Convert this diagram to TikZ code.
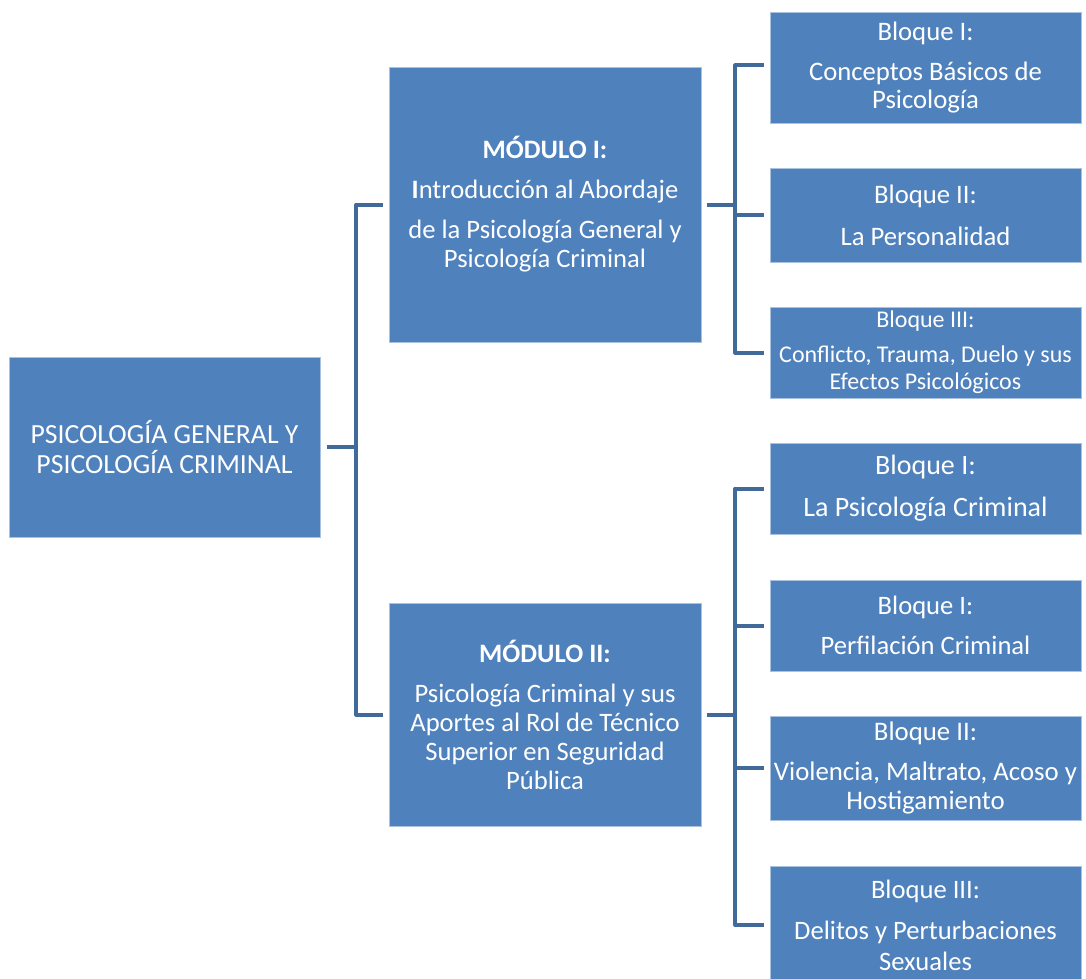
\documentclass[tikz,border=0pt]{standalone}
\usepackage{fontspec}
\setmainfont{Carlito}
\usetikzlibrary{positioning}
\definecolor{boxblue}{HTML}{4F81BD}
\definecolor{boxedge}{HTML}{A9C2E0}
\definecolor{linkblue}{HTML}{41699A}

\begin{document}
\begin{tikzpicture}[x=1pt, y=-1pt,
    box/.style={draw=boxedge, line width=0.8pt, fill=boxblue, text=white, align=center, inner sep=2pt},
    link/.style={draw=linkblue, line width=4pt, line join=round}]
    \useasboundingbox (0,0) rectangle (1086,979);
    % root and modules
    \node[box, minimum width=311pt, minimum height=180pt, font=\fontsize{27.7}{30}\selectfont] (root) at (164.5,447)
      {PSICOLOGÍA GENERAL Y\\PSICOLOGÍA CRIMINAL};
    \node[box, minimum width=312pt, minimum height=275pt, font=\fontsize{26.6}{29}\selectfont] (m1) at (545,204.5)
      {\textbf{MÓDULO I:}\\[11pt]\textbf{I}ntroducción al Abordaje\\[11pt]de la Psicología General y\\Psicología Criminal};
    \node[box, minimum width=312pt, minimum height=223pt, font=\fontsize{26.6}{29}\selectfont] (m2) at (545,714.5)
      {\textbf{MÓDULO II:}\\[11pt]Psicología Criminal y sus\\Aportes al Rol de Técnico\\Superior en Seguridad\\Pública};
    % bloques, first module
    \node[box, minimum width=311pt, minimum height=111pt, font=\fontsize{26.7}{28}\selectfont] (b1) at (925.5,67.5)
      {Bloque I:\\[12pt]Conceptos Básicos de\\Psicología};
    \node[box, minimum width=311pt, minimum height=94pt, font=\fontsize{26.7}{28}\selectfont] (b2) at (925.5,215)
      {Bloque II:\\[14pt]La Personalidad};
    \node[box, minimum width=311pt, minimum height=91pt, font=\fontsize{24}{27}\selectfont] (b3) at (925.5,352.5)
      {Bloque III:\\[8pt]Conflicto, Trauma, Duelo y sus\\Efectos Psicológicos};
    % bloques, second module
    \node[box, minimum width=311pt, minimum height=91pt, font=\fontsize{28}{28}\selectfont] (b4) at (925.5,488.5)
      {Bloque I:\\[14pt]La Psicología Criminal};
    \node[box, minimum width=311pt, minimum height=91pt, font=\fontsize{26.6}{28}\selectfont] (b5) at (925.5,625.5)
      {Bloque I:\\[12pt]Perfilación Criminal};
    \node[box, minimum width=311pt, minimum height=104pt, font=\fontsize{26.8}{29}\selectfont] (b6) at (925.5,768)
      {Bloque II:\\[11pt]Violencia, Maltrato, Acoso y\\Hostigamiento};
    \node[box, minimum width=311pt, minimum height=118pt, font=\fontsize{26.6}{31}\selectfont] (b7) at (925.5,925)
      {Bloque III:\\[10pt]Delitos y Perturbaciones\\Sexuales};
    % brackets
    \draw[link] ([xshift=7pt]root.east) -- ++(29,0) coordinate (rj) |- ([xshift=-6pt]m1.west);
    \draw[link] (rj) |- ([xshift=-6pt]m2.west);
    \draw[link] ([xshift=6pt]m1.east) -- ++(28,0) coordinate (mj1) |- ([xshift=-6pt,yshift=2pt]b1.west);
    \draw[link] (mj1) |- ([xshift=-6pt]b2.west);
    \draw[link] (mj1) |- ([xshift=-6pt]b3.west);
    \draw[link] ([xshift=6pt]m2.east) -- ++(28,0) coordinate (mj2) |- ([xshift=-6pt]b4.west);
    \draw[link] (mj2) |- ([xshift=-6pt]b5.west);
    \draw[link] (mj2) |- ([xshift=-6pt]b6.west);
    \draw[link] (mj2) |- ([xshift=-6pt]b7.west);
  \end{tikzpicture}
\end{document}
